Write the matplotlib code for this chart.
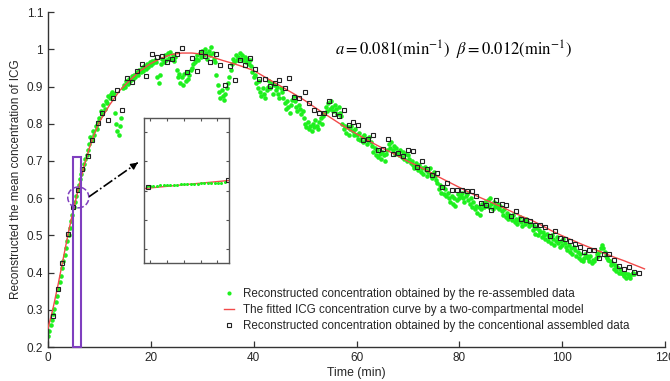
import numpy as np
import matplotlib
matplotlib.use('Agg')
import matplotlib.pyplot as plt
from matplotlib import patches
from matplotlib.lines import Line2D
from matplotlib.ticker import FuncFormatter

plt.rcParams['font.family'] = ['Liberation Sans', 'DejaVu Sans']
plt.rcParams['mathtext.fontset'] = 'stix'

# re-assembled data (green), sampled every 0.25 min starting at t = 0
green_t0 = 0.0
green_dt = 0.25
green_y = [
    .230, .243, .258, .272, .288, .303, .320, .338, .356, .374, .392, .411, .430, .448, .466, .484,
    .502, .520, .538, .556, .576, .591, .606, .621, .636, .651, .665, .679, .692, .705, .717, .729,
    .745, .765, .755, .780, .770, .795, .785, .805,
    .815, .835, .825, .850, .840, .862, .855, .875, .868, .880,
    .885, .880, .830, .800, .780, .770, .795, .815,
    .895, .905, .900, .915, .908, .920, .915, .928, .920, .932, .925, .938, .930, .945, .940,
    .950, .942, .955, .948, .960, .952, .965, .958, .968, .962, .972, .965,
    .925, .910, .930,
    .960, .975, .965, .985, .970, .990, .978, .992, .975, .985, .968, .980,
    .945, .925, .935, .910, .925, .905, .935, .915, .940, .920, .930, .945, .950, .960,
    .965, .975, .985, .970, .990, .980, .995, .985, 1.000, .990, .975, .995, .985, 1.005, .990, .975, .965,
    .930, .905, .885, .870, .890, .875, .865, .880, .895, .910, .925,
    .945, .960, .975, .965, .985, .970, .980, .990, .975, .985, .970, .980, .965, .975, .960, .970, .955,
    .940, .925, .930, .910, .895, .915, .885, .875, .895, .880, .870, .890,
    .900, .915, .895, .910, .880, .905, .890, .900, .880, .870, .895, .885,
    .870, .855, .840, .860, .845, .830, .850, .865, .875, .860, .845, .835, .850, .840, .825, .835,
    .815, .800, .790, .805, .785, .795, .780, .800, .790, .810, .795, .785, .805, .815, .800, .820,
    .830, .845, .835, .855, .840, .860, .845, .835, .850, .840, .825, .845, .830, .820,
    .800, .785, .795, .775, .790, .770, .785, .795, .780, .770,
    .785, .770, .760, .775, .755, .765, .750, .770, .760, .745, .755, .765, .750,
    .740, .725, .735, .715, .730, .710, .720, .705, .725, .715, .700, .720, .730,
    .745, .735, .750, .730, .740, .720, .735, .725, .715, .730, .710, .725, .705, .720, .700, .715, .705, .695,
    .700, .690, .680, .695, .685, .675, .690, .670, .680, .665, .685, .675, .660, .670, .680, .665, .655, .670, .660, .650,
    .640, .625, .635, .615, .630, .610, .625, .605,
    .615, .600, .590, .605, .585, .600, .580, .595, .610, .600,
    .605, .615, .600, .590, .605,
    .610, .595, .585, .600, .575, .590, .570, .580, .560, .575, .555, .570, .585, .575,
    .590, .580, .595, .575, .600, .585, .570, .590, .580, .575, .585, .570, .580,
    .565, .555, .570, .550, .560, .545, .555,
    .550, .540, .555, .535, .545, .530, .540, .550, .535, .525, .540, .530, .545, .535, .525, .530,
    .530, .515, .525, .505, .520, .500, .515, .510, .495,
    .510, .500, .490, .505, .485, .495, .480, .500, .490, .475, .485, .495, .480, .470, .485, .475, .490,
    .480, .470, .460, .475, .455, .465, .450, .470, .460, .445, .455, .440, .450, .435, .430, .440, .450, .445,
    .440, .430, .445, .425, .435, .430, .440, .450, .445,
    .455, .465, .475, .465, .455, .445, .440, .435,
    .430, .420, .425, .410, .420, .405, .415, .400, .410,
    .400, .395, .390, .400, .385, .395, .390, .385, .395, .400, .395,
]
green_t = green_t0 + green_dt * np.arange(len(green_y))

# conventional assembled data (black squares)
black_t = [0.9, 1.9, 2.8, 3.8, 4.9, 5.8, 6.7, 7.7, 8.6, 9.7, 10.6, 11.6, 12.6, 13.5, 14.4, 15.4,
           16.3, 17.3, 18.2, 19.1, 20.2, 21.2, 22.1, 23.1, 24.1, 25.0, 26.0, 27.0, 28.0, 28.9, 29.7,
           30.6, 31.6, 32.6, 33.5, 34.5, 35.4, 36.4, 37.4, 38.4, 39.2, 40.2, 41.1, 42.2, 43.2, 44.1,
           45.0, 46.0, 46.9, 47.9, 48.9, 49.9, 50.8, 51.7, 52.7, 53.6, 54.6, 55.6, 56.6, 57.5, 58.5,
           59.4, 60.3, 61.3, 62.3, 63.2, 64.2, 65.2, 66.1, 67.1, 68.0, 69.0, 70.0, 70.9, 71.8, 72.8,
           73.7, 74.7, 75.7, 76.7, 77.6, 78.6, 79.5, 80.6, 81.5, 82.4, 83.3, 84.3, 85.2, 86.2, 87.2,
           88.2, 89.1, 90.0, 91.0, 91.9, 92.9, 93.8, 94.8, 95.7, 96.7, 97.7, 98.6, 99.6, 100.5, 101.5,
           102.5, 103.4, 104.3, 105.2, 106.2, 107.2, 108.1, 109.1, 110.1, 111.1, 112.0, 113.0, 114.0, 115.0]
black_y = [.284, .357, .427, .504, .577, .622, .678, .714, .756, .802, .830, .810, .870, .891, .837, .924,
           .911, .943, .961, .927, .988, .980, .982, .965, .973, .987, 1.003, .938, .976, .943, .994,
           .982, .965, .988, .958, .903, .956, .918, .970, .958, .976, .947, .919, .919, .902, .909,
           .918, .897, .922, .871, .870, .886, .857, .838, .830, .829, .862, .827, .821, .836, .797,
           .805, .796, .756, .759, .771, .730, .731, .758, .720, .721, .713, .730, .728, .683, .700,
           .679, .663, .667, .631, .641, .622, .622, .622, .620, .620, .605, .588, .581, .569, .596,
           .583, .581, .553, .566, .545, .541, .539, .528, .528, .522, .499, .513, .493, .489, .484,
           .478, .468, .455, .462, .461, .439, .451, .451, .434, .418, .410, .414, .401, .398]

# fitted two-compartment curve (red)
red_t = [0, 1, 2, 3, 4, 5, 6, 7, 8, 9, 10, 12, 14, 16, 18, 20, 22, 24, 26, 28, 30, 32, 34, 36, 38,
         40, 42, 44, 46, 48, 50, 52, 54, 56, 58, 60, 62, 64, 66, 68, 70, 72, 74, 76, 78, 80, 82, 84,
         86, 88, 90, 92, 94, 96, 98, 100, 102, 104, 106, 108, 110, 112, 114, 116]
red_y = [.250, .305, .370, .440, .510, .572, .630, .685, .733, .772, .805, .851, .890, .918, .943, .962,
         .976, .986, .990, .990, .987, .979, .970, .962, .953, .943, .927, .911, .895, .879, .862, .843,
         .825, .807, .789, .773, .757, .742, .728, .714, .699, .686, .672, .657, .643, .629, .615, .602,
         .590, .578, .565, .552, .541, .527, .512, .499, .487, .475, .464, .453, .442, .432, .421, .410]

# dense re-assembled samples shown in the zoomed inset
inset_t0 = 4.89
inset_dt = 0.038
inset_green_y = [.581, .582, .583, .584, .586, .587, .588, .589, .590, .591, .593, .594,
                 .595, .596, .597, .598, .599, .600, .601, .602, .603, .604, .605, .607]
inset_green_t = inset_t0 + inset_dt * np.arange(len(inset_green_y))

legend_labels = ['Reconstructed concentration obtained by the re-assembled data',
                 'The fitted ICG concentration curve by a two-compartmental model',
                 'Reconstructed concentration obtained by the concentional assembled data']

green = '#1ef01e'
red = '#f24a4a'
purple = '#7f3fbf'
axis_col = '#333333'
text_col = '#262626'

fig = plt.figure(figsize=(6.7, 3.81), dpi=100)
ax = fig.add_axes([0.0716, 0.0892, 0.921, 0.879])

ax.plot(green_t, green_y, 'o', color=green, ms=3.3, mew=0, zorder=2)
ax.plot(red_t, red_y, '-', color=red, lw=1.0, zorder=3)
ax.plot(black_t, black_y, 's', mfc='none', mec='#222222', ms=3.4, mew=0.8, zorder=4)

ax.set_xlim(0, 120)
ax.set_ylim(0.2, 1.1)
ax.set_xticks(np.arange(0, 121, 20))
ax.set_yticks(np.arange(0.2, 1.101, 0.1))
ax.yaxis.set_major_formatter(FuncFormatter(lambda v, p: '%g' % round(v, 2)))
for s in ['top', 'right']:
    ax.spines[s].set_visible(False)
for s in ['left', 'bottom']:
    ax.spines[s].set_color(axis_col)
    ax.spines[s].set_linewidth(1.0)
ax.tick_params(direction='in', length=4, width=0.9, color=axis_col, labelcolor=text_col, labelsize=8.5)

ax.set_xlabel('Time (min)', fontsize=8.8, color=text_col, labelpad=2)
ax.set_ylabel('Reconstructed the mean concentration of ICG', fontsize=8.5, color=text_col, labelpad=3)

ax.text(55.9, 0.998, r'$a = 0.081(\mathrm{min}^{-1})\ \ \beta = 0.012(\mathrm{min}^{-1})$',
        fontsize=12, va='center', ha='left', color='black')

# purple zoom box, dashed circle and arrow to inset
ax.add_patch(patches.Rectangle((4.85, 0.2), 1.5, 0.511, fill=False, ec=purple, lw=1.5,
                               clip_on=False, zorder=5))
ax.add_patch(patches.Ellipse((5.9, 0.602), 4.1, 0.056, fill=False, ec=purple, lw=1.1, ls='--', zorder=5))
ax.plot([8.0, 17.1], [0.604, 0.692], ls='-.', color='k', lw=1.2, zorder=5)
ax.annotate('', xy=(17.9, 0.70), xytext=(16.9, 0.690),
            arrowprops=dict(arrowstyle='-|>', color='k', lw=1.0, mutation_scale=10))

handles = [Line2D([0], [0], marker='o', ls='none', color=green, ms=3.0, mew=0),
           Line2D([0], [0], color=red, lw=1.0),
           Line2D([0], [0], marker='s', ls='none', mfc='none', mec='#222222', ms=3.4, mew=0.8)]
fig.legend(handles, legend_labels, loc='upper left', bbox_to_anchor=(0.325, 0.259), frameon=False,
           fontsize=8.4, handlelength=0.9, handletextpad=0.8, labelspacing=0.32, borderpad=0,
           labelcolor=text_col)

# inset
ax_in = fig.add_axes([0.2149, 0.3097, 0.1269, 0.3806])
ax_in.plot(red_t, red_y, '-', color=red, lw=1.0)
ax_in.plot(inset_green_t, inset_green_y, 'o', color=green, ms=2.2, mew=0)
ax_in.plot(black_t, black_y, 's', mfc='none', mec='#222222', ms=3.2, mew=0.8)
ax_in.set_xlim(4.86, 5.81)
ax_in.set_ylim(0.05, 1.05)
ax_in.set_xticks(np.linspace(4.93, 5.68, 5))
ax_in.set_yticks(np.arange(0.15, 1.0, 0.2))
ax_in.tick_params(direction='in', length=2.5, width=0.8, color='#555555', top=True, right=True,
                  labelbottom=False, labelleft=False)
for s in ax_in.spines.values():
    s.set_color('#555555')
    s.set_linewidth(1.0)

fig.savefig('out.png', dpi=100)
